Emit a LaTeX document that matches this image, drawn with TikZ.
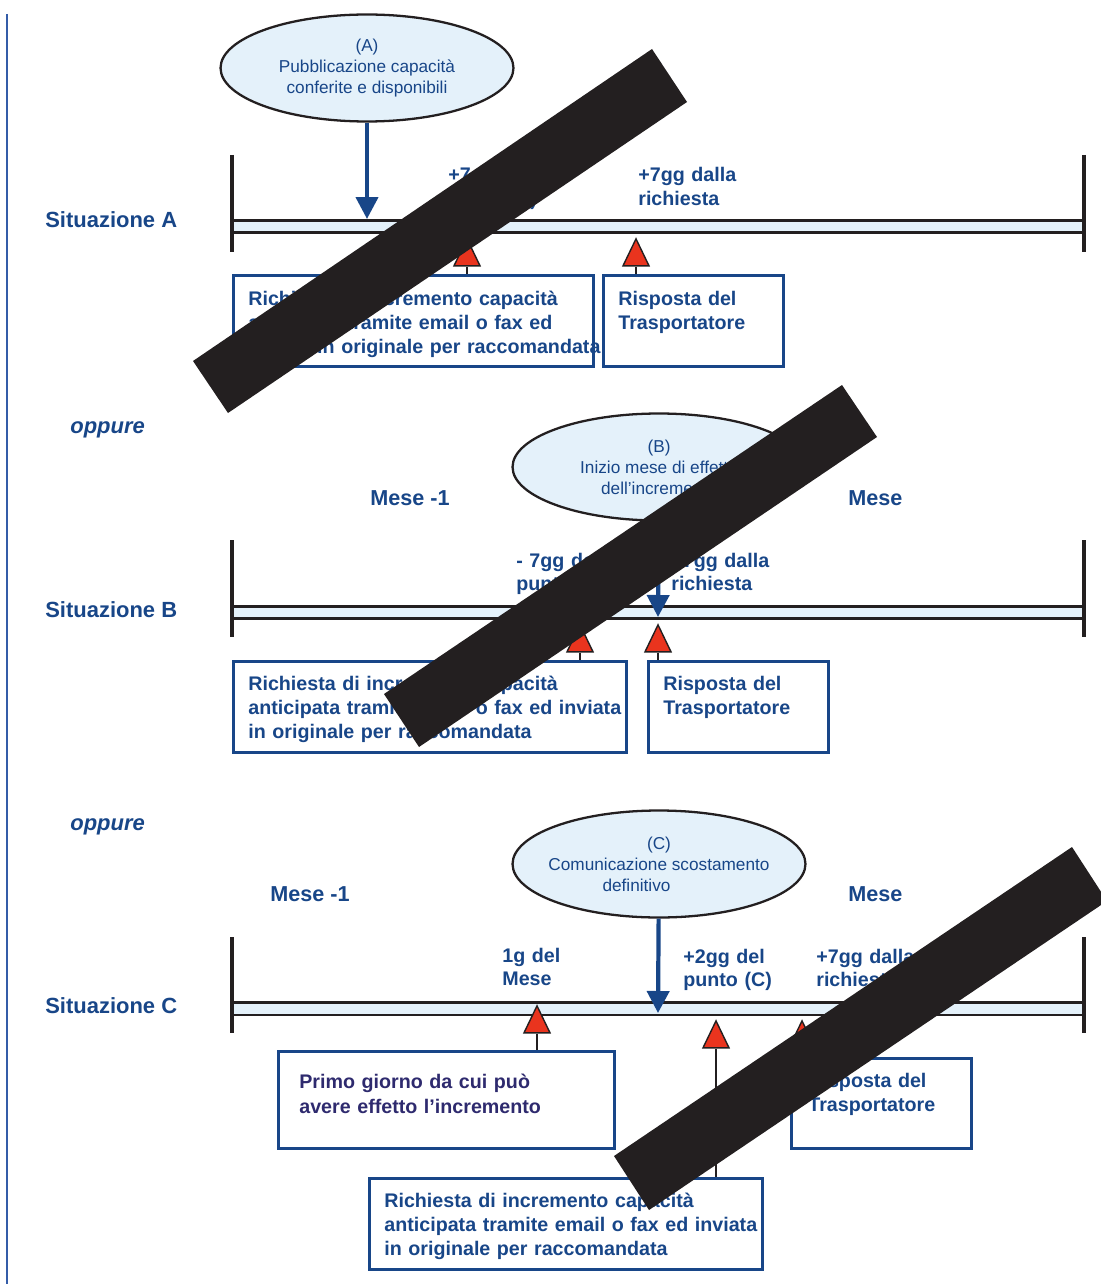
\documentclass[tikz,border=0pt]{standalone}
\usepackage{fontspec}
\setmainfont{Liberation Sans}
\usepackage{xcolor}
\usepackage{tikz}
\usetikzlibrary{shapes.geometric}
\usetikzlibrary{arrows.meta}
\definecolor{darkblue}{RGB}{24,70,136}
\definecolor{navytext}{RGB}{46,42,110}
\definecolor{lightfill}{RGB}{228,241,250}
\definecolor{markred}{RGB}{233,52,30}
\definecolor{barblack}{RGB}{35,31,32}
\definecolor{sideblue}{RGB}{52,92,168}
\tikzstyle{bubble} = [ellipse, draw=barblack, line width=1.3pt, fill=lightfill, minimum width=5.86cm, minimum height=2.14cm, inner sep=-0.3cm, align=center, text=darkblue, font=\fontsize{9.8}{12}\selectfont]
\tikzstyle{info-rect} = [rectangle, draw=darkblue, line width=1.5pt, anchor=north west, inner sep=0pt, minimum height=1.82cm]
\tikzstyle{box-text} = [anchor=base west, inner sep=0pt, align=left, text width=9cm, text=darkblue, font=\fontsize{11.2}{13.9}\selectfont\bfseries]
\tikzstyle{mark-label} = [anchor=base west, inner sep=0pt, align=left, text width=3cm, text=darkblue, font=\fontsize{11.2}{13.6}\selectfont\bfseries]
\tikzstyle{side-label} = [anchor=base west, inner sep=0pt, text=darkblue, font=\fontsize{12.5}{15}\selectfont\bfseries]
\tikzstyle{month} = [anchor=base west, inner sep=0pt, text=darkblue, font=\fontsize{12.3}{15}\selectfont\bfseries]
\tikzstyle{tri-mark} = [isosceles triangle, isosceles triangle stretches, shape border rotate=90, minimum width=0.52cm, minimum height=0.54cm, inner sep=0pt, draw=barblack, line width=0.8pt, fill=markred, anchor=apex]
\tikzstyle{stem} = [draw=barblack, line width=1.5pt]
\tikzstyle{arrow-down} = [draw=darkblue, line width=2.4pt, -{Triangle[width=0.44cm, length=0.44cm]}]
\tikzstyle{time-line} = [draw=barblack, line width=1.5pt]
\tikzstyle{time-bar} = [draw=barblack, line width=2.5pt]
\tikzstyle{cross-bar} = [fill=barblack]

\begin{document}
\begin{tikzpicture}[x=0.02cm, y=-0.02cm]
        \useasboundingbox (0,0) rectangle (1101,1284);
        \draw[sideblue, line width=1pt] (7,14) -- (7,1284);

        % situazione A
        \node [bubble] (pubA) at (367,68) {(A)\\Pubblicazione capacità\\conferite e disponibili};
        \fill [lightfill] (232,220.7) rectangle (1084,232.7);
        \draw [time-line] (232,220.7) -- (1084,220.7) (232,232.7) -- (1084,232.7);
        \draw [time-bar] (232,155) -- (232,252) (1084,155) -- (1084,252);
        \coordinate (hitA) at (367,219);
        \draw [arrow-down] (pubA) -- (hitA);

        \node [side-label] (sitA) at (45,228) {Situazione A};
        \node [mark-label] (labA1) at (448,182) {+7gg del\\punto (A)};
        \node [mark-label] (labA2) at (638,182) {+7gg dalla\\richiesta};

        \node [tri-mark] (triA1) at (467,237) {};
        \node [tri-mark] (triA2) at (636,237) {};
        \node [info-rect, minimum width=7.2cm] (boxA1) at (232,274) {};
        \node [info-rect, minimum width=3.6cm] (boxA2) at (602,274) {};
        \node [box-text] (txtA1) at ([shift={(16,31)}]boxA1.north west) {Richiesta di incremento capacità\\anticipata tramite email o fax ed\\inviata in originale per raccomandata};
        \node [box-text] (txtA2) at ([shift={(16,31)}]boxA2.north west) {Risposta del\\Trasportatore};
        \draw [stem] (triA1.lower side) -- (triA1.lower side |- boxA1.north);
        \draw [stem] (triA2.lower side) -- (triA2.lower side |- boxA2.north);

        \node [side-label, font=\fontsize{12.5}{15}\selectfont\bfseries\itshape] (orAB) at (70,433) {oppure};

        % situazione B
        \node [bubble] (startB) at (659,467) {(B)\\Inizio mese di effetto\\dell’incremento};
        \node [month] (prevB) at (370,505) {Mese -1};
        \node [month] (curB) at (848,505) {Mese};
        \fill [lightfill] (232,606.7) rectangle (1084,618.7);
        \draw [time-line] (232,606.7) -- (1084,606.7) (232,618.7) -- (1084,618.7);
        \draw [time-bar] (232,540) -- (232,637) (1084,540) -- (1084,637);
        \coordinate (hitB) at (658,617);
        \draw [arrow-down] (startB) -- (hitB);

        \node [side-label] (sitB) at (45,617) {Situazione B};
        \node [mark-label] (labB1) at (516,567) {- 7gg del\\punto (B)};
        \node [mark-label] (labB2) at (671,567) {+7gg dalla\\richiesta};

        \node [tri-mark] (triB1) at (580,623) {};
        \node [tri-mark] (triB2) at (658,623) {};
        \node [info-rect, minimum width=7.86cm] (boxB1) at (232,660) {};
        \node [info-rect, minimum width=3.6cm] (boxB2) at (647,660) {};
        \node [box-text] (txtB1) at ([shift={(16,30)}]boxB1.north west) {Richiesta di incremento capacità\\anticipata tramite email o fax ed inviata\\in originale per raccomandata};
        \node [box-text] (txtB2) at ([shift={(16,30)}]boxB2.north west) {Risposta del\\Trasportatore};
        \draw [stem] (triB1.lower side) -- (triB1.lower side |- boxB1.north);
        \draw [stem] (triB2.lower side) -- (triB2.lower side |- boxB2.north);

        \node [side-label, font=\fontsize{12.5}{15}\selectfont\bfseries\itshape] (orBC) at (70,830) {oppure};

        % situazione C
        \node [bubble] (noticeC) at (659,864) {(C)\\Comunicazione scostamento\\definitivo\hspace*{0.9cm}};
        \node [month] (prevC) at (270,901) {Mese -1};
        \node [month] (curC) at (848,901) {Mese};
        \fill [lightfill] (232,1002.3) rectangle (1084,1015);
        \draw [time-line] (232,1002.3) -- (1084,1002.3) (232,1015) -- (1084,1015);
        \draw [time-bar] (232,937) -- (232,1033) (1084,937) -- (1084,1033);
        \coordinate (hitC) at (658,1013);
        \draw [arrow-down] (noticeC) -- (hitC);

        \node [side-label] (sitC) at (45,1013) {Situazione C};
        \node [mark-label] (labC1) at (502,962) {1g del\\Mese};
        \node [mark-label] (labC2) at (683,963) {+2gg del\\punto (C)};
        \node [mark-label] (labC3) at (816,963) {+7gg dalla\\richiesta};

        \node [tri-mark] (triC1) at (537,1004) {};
        \node [tri-mark] (triC2) at (716,1019) {};
        \node [tri-mark] (triC3) at (802,1019) {};
        \node [info-rect, minimum width=6.72cm, minimum height=1.94cm] (boxC1) at (277,1050) {};
        \node [info-rect, minimum width=3.6cm, minimum height=1.8cm] (boxC2) at (790,1057) {};
        \node [info-rect, minimum width=7.86cm] (boxC3) at (368,1177) {};
        \node [box-text, text=navytext, font=\fontsize{11.2}{14.7}\selectfont\bfseries] (txtC1) at ([shift={(22,38)}]boxC1.north west) {Primo giorno da cui può\\avere effetto l’incremento};
        \node [box-text] (txtC2) at ([shift={(18,30)}]boxC2.north west) {Risposta del\\Trasportatore};
        \node [box-text] (txtC3) at ([shift={(16,30)}]boxC3.north west) {Richiesta di incremento capacità\\anticipata tramite email o fax ed inviata\\in originale per raccomandata};
        \draw [stem] (triC1.lower side) -- (triC1.lower side |- boxC1.north);
        \draw [stem] (triC2.lower side) -- (triC2.lower side |- boxC3.north);
        \draw [stem] (triC3.lower side) -- (triC3.lower side |- boxC2.north);

        % barre nere
        \fill [cross-bar] (193,361) -- (228,413) -- (687,102) -- (652,49) -- cycle;
        \fill [cross-bar] (384,694) -- (419,747) -- (877,437) -- (842,385) -- cycle;
        \fill [cross-bar] (614,1156) -- (649,1210) -- (1107,901) -- (1072,847) -- cycle;
\end{tikzpicture}
\end{document}
